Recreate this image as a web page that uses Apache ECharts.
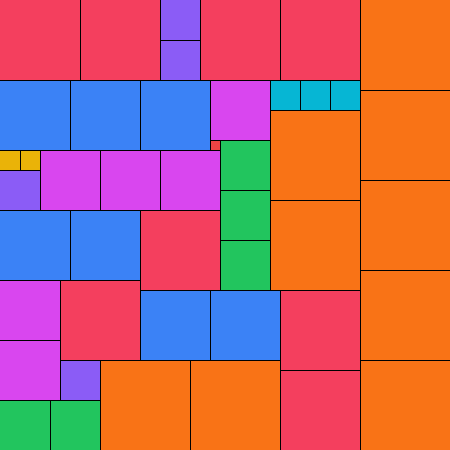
<!DOCTYPE html>
<html><head><meta charset="utf-8">
<script src="https://cdn.jsdelivr.net/npm/echarts@6/dist/echarts.min.js"></script>
<style>html,body{margin:0;padding:0;background:#fff}#c{width:450px;height:450px}</style>
</head><body><div id="c"></div>
<script>
const xs =    [0,80,160,160,200,280,360,360,360,360,360,0,70,140,210,270,300,330,270,270,210,220,220,220,0,20,0,40,100,160,0,70,140,0,0,60,140,210,280,280,60,100,190,0,50];
const ys =    [0,0,0,40,0,0,0,90,180,270,360,80,80,80,80,80,80,80,110,200,140,140,190,240,150,150,170,150,150,150,210,210,210,280,340,280,290,290,290,370,360,360,360,400,400];
const sizes = [80,80,40,40,80,80,90,90,90,90,90,70,70,70,60,30,30,30,90,90,10,50,50,50,20,20,40,60,60,60,70,70,80,60,60,80,70,70,80,80,40,90,90,50,50];
const kinds = ['rose','rose','violet','violet','rose','rose','orange','orange','orange','orange','orange','blue','blue','blue','fuchsia','cyan','cyan','cyan','orange','orange','red','green','green','green','yellow','yellow','violet','fuchsia','fuchsia','fuchsia','blue','blue','rose','fuchsia','fuchsia','rose','blue','blue','rose','rose','violet','orange','orange','green','green'];
const palette = {rose:'#f43f5e',violet:'#8b5cf6',orange:'#f97316',blue:'#3b82f6',fuchsia:'#d946ef',cyan:'#06b6d4',red:'#ef4444',green:'#22c55e',yellow:'#eab308'};

const data = xs.map((x,i)=>[x, ys[i], sizes[i], i]);
const chart = echarts.init(document.getElementById('c'));
chart.setOption({
  animation:false,
  grid:{left:0,right:0,top:0,bottom:0},
  xAxis:{type:'value',min:0,max:450,show:false},
  yAxis:{type:'value',min:0,max:450,inverse:true,show:false},
  series:[{
    type:'custom',
    clip:true,
    data:data,
    encode:{x:0,y:1},
    renderItem:function(params, api){
      const x = api.value(0), y = api.value(1), s = api.value(2), i = api.value(3);
      const p0 = api.coord([x,y]);
      const p1 = api.coord([x+s,y+s]);
      const L = Math.round(p0[0]), T = Math.round(p0[1]), R = Math.round(p1[0]), B = Math.round(p1[1]);
      const ls = {stroke:'#000', lineWidth:1};
      const children = [{type:'rect', shape:{x:L,y:T,width:R-L,height:B-T}, style:{fill:palette[kinds[i]]}}];
      if (L > 0) children.push({type:'line', shape:{x1:L+0.5,y1:T,x2:L+0.5,y2:B+1}, style:ls});
      if (T > 0) children.push({type:'line', shape:{x1:L,y1:T+0.5,x2:R+1,y2:T+0.5}, style:ls});
      children.push({type:'line', shape:{x1:R+0.5,y1:T,x2:R+0.5,y2:B+1}, style:ls});
      children.push({type:'line', shape:{x1:L,y1:B+0.5,x2:R+1,y2:B+0.5}, style:ls});
      return {type:'group', children:children};
    }
  }]
});
</script></body></html>
